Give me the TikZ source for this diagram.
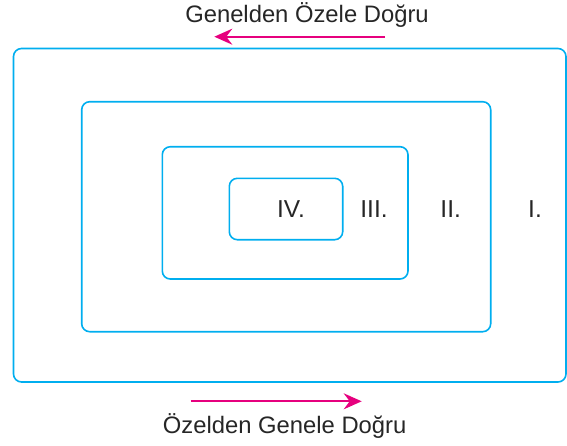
\documentclass[tikz,border=0pt]{standalone}
\usepackage{fontspec}
\setmainfont{Liberation Sans}
\usetikzlibrary{arrows.meta}
\definecolor{boxcyan}{HTML}{00AEEF}
\definecolor{arrowmag}{HTML}{E6007E}
\begin{document}
\begin{tikzpicture}[x=1pt,y=-1pt,
  box/.style={draw=boxcyan, line width=1.6pt, rounded corners=8pt, inner sep=0pt},
  roman/.style={anchor=base, font=\fontsize{24.5}{28}\selectfont, text=black!85, inner sep=0pt},
  caption/.style={anchor=base, font=\fontsize{23.8}{28}\selectfont, text=black!85, inner sep=0pt},
  dirarrow/.style={draw=arrowmag, line width=1.8pt, -{Stealth[length=18pt, width=16pt, inset=6pt]}}]
\useasboundingbox (0,0) rectangle (567,445);
% rectangles
\node[box, minimum width=552.5pt, minimum height=333.5pt] (r1) at (289.75,215.25) {};
\node[box, minimum width=409pt, minimum height=230pt] (r2) at (286.2,216.7) {};
\node[box, minimum width=245.7pt, minimum height=132.3pt] (r3) at (285.15,212.85) {};
\node[box, minimum width=113.4pt, minimum height=61.4pt] (r4) at (286,209) {};
% labels
\node[roman] (l4) at (291,217.3) {IV.};
\node[roman] (l3) at (374,217.3) {III.};
\node[roman] (l2) at (450.7,217.3) {II.};
\node[roman] (l1) at (535,217.3) {I.};
% captions
\node[caption] (top) at (307,22.7) {Genelden Özele Doğru};
\node[caption] (bot) at (284.7,433.3) {Özelden Genele Doğru};
% arrows
\coordinate (ta) at (385,36.7);
\coordinate (tb) at (214.3,36.7);
\coordinate (ba) at (190.6,401.3);
\coordinate (bb) at (361.7,401.3);
\draw[dirarrow] (ta) -- (tb);
\draw[dirarrow] (ba) -- (bb);
\end{tikzpicture}
\end{document}
